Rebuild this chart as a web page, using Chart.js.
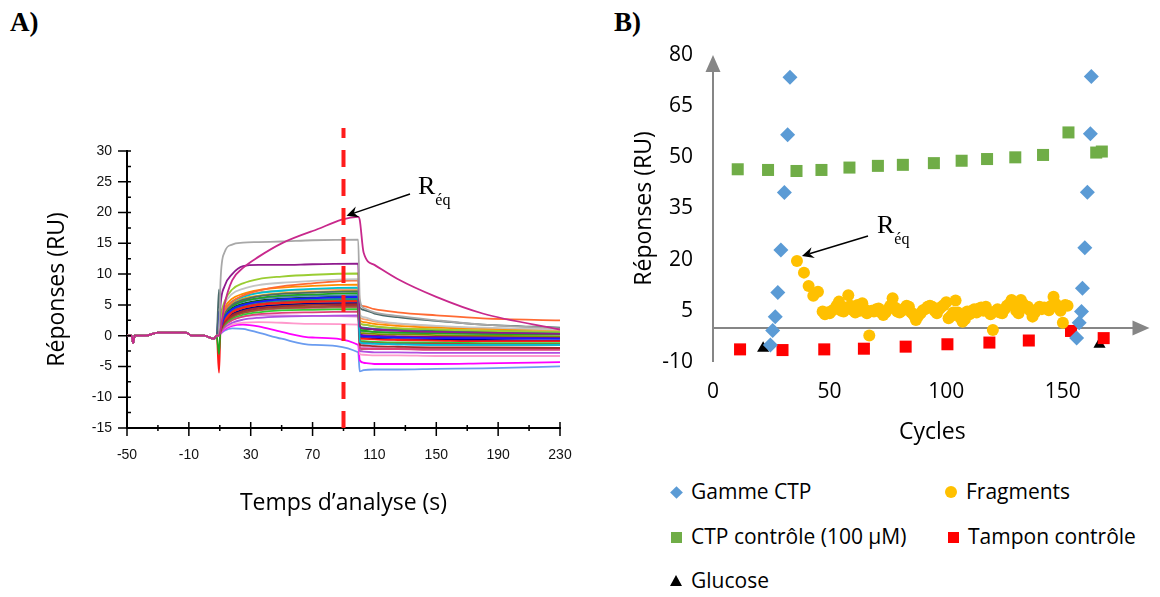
<!DOCTYPE html>
<html>
<head>
<meta charset="utf-8">
<script src="https://cdn.jsdelivr.net/npm/chart.js@4"></script>
<style>
  body { margin: 0; background: #fff; width: 1160px; height: 597px; overflow: hidden; position: relative; font-family: 'Open Sans', sans-serif; }
  #chartA { position: absolute; left: 0; top: 0; }
  #chartB { position: absolute; left: 600px; top: 0; }
  .tag { position: absolute; font: bold 27px 'Liberation Serif', serif; color: #000; line-height: 30px; }
  .item { position: absolute; font-size: 21px; color: #000; line-height: 26px; white-space: nowrap; }
  .mk { position: absolute; }
</style>
</head>
<body>
<div class="tag" style="left:10px;top:7px">A)</div>
<div class="tag" style="left:614px;top:7px">B)</div>
<canvas id="chartA" width="600" height="597"></canvas>
<canvas id="chartB" width="560" height="460"></canvas>
<div id="legendB"></div>

<script>
// ---------- Panel A : sensorgrams ----------
// shared baseline before injection
const baseT = [-50, -47, -46, -45, -38, -30, -12, -8, 0, 6, 8];
const baseV = [0, 0, -1.2, 0, 0, 0.5, 0.5, 0, 0, -0.5, 0];
// association phase (injection ~10 s to ~100 s)
const assocT = [9.5, 10.5, 13, 18, 25, 35, 50, 70, 99.5];
// dissociation phase
const dissT = [100.5, 103, 110, 125, 150, 180, 230];

const assocValues = [
  [0, 1, 5, 9, 11, 12.8, 15, 17, 19.3],
  [0, 9, 13.5, 14.8, 15.1, 15.2, 15.3, 15.5, 15.6],
  [0, 5, 8, 10, 11.3, 11.5, 11.5, 11.6, 11.7],
  [0, 3, 5.5, 7.5, 8.5, 9.2, 9.6, 9.9, 10.1],
  [0, 2.5, 5, 6.8, 7.6, 8.2, 8.6, 8.9, 9.2],
  [0, 2, 4, 5.5, 6.5, 7.3, 8, 8.5, 9.0],
  [7.5, 2, 3.5, 5, 5.8, 6.4, 6.8, 7, 7.2],
  [0, 2, 4, 5.5, 6.3, 6.9, 7.3, 7.6, 7.8],
  [0, 2.5, 4.5, 6, 6.8, 7.4, 7.8, 8.1, 8.3],
  [-3, 1.5, 3.5, 4.8, 5.6, 6.1, 6.5, 6.7, 6.9],
  [4, 1.5, 3, 4.3, 5, 5.5, 5.9, 6.1, 6.3],
  [-6, 1, 2.5, 3.8, 4.5, 5, 5.3, 5.5, 5.6],
  [0, 1, 2.2, 3.3, 4, 4.5, 4.8, 5, 5.1],
  [0, 1.5, 3, 4.2, 4.9, 5.4, 5.7, 5.9, 6],
  [0, 1.2, 2.6, 3.8, 4.5, 5, 5.3, 5.5, 5.7],
  [0, 1, 2.4, 3.5, 4.2, 4.7, 5, 5.2, 5.3],
  [0, 0.8, 2, 3, 3.7, 4.2, 4.5, 4.7, 4.8],
  [0, 0.8, 1.8, 2.8, 3.4, 3.8, 4.1, 4.2, 4.3],
  [0, 0.6, 1.6, 2.5, 3.1, 3.5, 3.7, 3.8, 3.9],
  [0, 0.5, 1.3, 2.1, 2.6, 2.9, 3.1, 3.2, 3.3],
  [0, 0.5, 1.2, 1.8, 2.1, 2.2, 2.1, 1.9, 1.8],
  [0, 0.4, 1, 1.6, 1.8, 1.5, 0.6, -0.3, -1.5],
  [0, 0.3, 0.8, 1.2, 1.1, 0.5, -0.5, -1.5, -2.7],
  [0, 1.8, 3.6, 4.8, 5.5, 6, 6.3, 6.5, 6.6],
  [0, 1.6, 3.2, 4.5, 5.2, 5.7, 6, 6.2, 6.4],
  [0, 1, 2.2, 3.2, 3.8, 4.3, 4.6, 4.7, 4.9],
  [0, 2.2, 4.2, 5.6, 6.4, 7, 7.3, 7.5, 7.6],
  [0, 2, 3.9, 5.2, 6, 6.5, 6.9, 7.1, 7.3],
  [0, 1.3, 2.8, 4, 4.7, 5.2, 5.5, 5.7, 5.9],
  [0, 1.1, 2.5, 3.6, 4.3, 4.8, 5.1, 5.3, 5.4],
  [0, 0.9, 2.1, 3.1, 3.7, 4.1, 4.4, 4.5, 4.6],
  [0, 0.7, 1.7, 2.6, 3.1, 3.3, 3.3, 3.2, 3.1]
];
const dissValues = [
  [18.8, 13.5, 11.5, 9.2, 6.3, 3.6, 1.0],
  [6, 4.5, 3.8, 3.2, 2.5, 1.8, 1.2],
  [1.5, 1.2, 1.0, 0.8, 0.6, 0.5, 0.3],
  [2, 1.8, 1.5, 1.2, 1.0, 0.8, 0.6],
  [3.5, 3, 2.5, 2, 1.6, 1.3, 1],
  [5.2, 4.8, 4.3, 3.8, 3.3, 2.8, 2.5],
  [4.6, 4.2, 3.6, 3, 2.4, 1.8, 1.3],
  [-1, -1.2, -1.3, -1.4, -1.5, -1.5, -1.5],
  [2.5, 2.2, 1.9, 1.6, 1.3, 1.1, 1.0],
  [1, 0.8, 0.6, 0.5, 0.4, 0.3, 0.2],
  [0, -0.1, -0.2, -0.3, -0.4, -0.4, -0.5],
  [-0.5, -0.5, -0.6, -0.7, -0.8, -0.9, -0.9],
  [-1.5, -1.6, -1.7, -1.8, -1.9, -1.9, -2],
  [1.5, 1.3, 1.1, 0.9, 0.7, 0.5, 0.4],
  [0.5, 0.4, 0.3, 0.2, 0.1, 0, -0.1],
  [-0.3, -0.4, -0.5, -0.6, -0.7, -0.7, -0.8],
  [-1, -1.1, -1.2, -1.3, -1.3, -1.4, -1.4],
  [-0.8, -0.9, -1, -1.1, -1.1, -1.2, -1.2],
  [-2, -2.1, -2.2, -2.2, -2.3, -2.3, -2.3],
  [-2.5, -2.6, -2.7, -2.7, -2.8, -2.8, -2.8],
  [-3, -3.1, -3.2, -3.2, -3.3, -3.3, -3.3],
  [-4, -4.4, -4.6, -4.6, -4.6, -4.5, -4.3],
  [-5.8, -5.6, -5.5, -5.5, -5.4, -5.3, -5],
  [0.8, 0.7, 0.6, 0.5, 0.4, 0.3, 0.2],
  [1.2, 1.1, 1.0, 0.9, 0.8, 0.7, 0.6],
  [0.2, 0.1, 0, -0.1, -0.2, -0.2, -0.3],
  [3, 2.7, 2.3, 1.9, 1.5, 1.2, 0.9],
  [2, 1.8, 1.5, 1.2, 1, 0.8, 0.7],
  [0, -0.1, -0.2, -0.3, -0.3, -0.4, -0.4],
  [-1.2, -1.3, -1.3, -1.4, -1.5, -1.5, -1.5],
  [-2.3, -2.2, -2.1, -2.1, -2.1, -2, -2],
  [-1.8, -1.9, -2, -2.1, -2.1, -2.1, -2.2]
];
const curveColors = [
  '#c8288c', '#a8a8a8', '#8e1b8e', '#9acd32', '#c4c4c4', '#ff6a33', '#4a6a6a', '#00c0d0',
  '#ff8c00', '#1fa51f', '#1a1aff', '#ff1a1a', '#a52a2a', '#208b8b', '#7f8f00', '#000090',
  '#a0522d', '#32cd32', '#e0407a', '#b050e0', '#ff99cc', '#ff00ff', '#6a9cf0', '#4682b4',
  '#0a640a', '#8b008b', '#f4a070', '#daa520', '#dc143c', '#1e90ff', '#bc5f6a', '#dd88dd'
];
const reqTime = 90; // time where R_eq is read

// ---------- Panel B : responses per cycle ----------
const gammeX = [24.6, 25.6, 26.7, 27.8, 29.1, 30.6, 32.0, 33.0, 155.9, 157.0, 158.0, 158.4, 159.4, 160.5, 161.8, 162.2];
const gammeY = [-5.0, -0.8, 3.3, 10.4, 22.8, 39.7, 56.6, 73.5, -3.0, 1.5, 4.8, 11.6, 23.5, 39.8, 56.9, 73.7];

const fragX = [36, 39, 41, 43, 45, 47, 48, 49, 50, 51, 52, 53, 54, 55, 56, 57, 58, 59, 60, 61, 62, 63, 64, 65, 66, 67, 68, 69,
  70, 71, 72, 73, 74, 75, 76, 77, 78, 79, 80, 81, 82, 83, 84, 85, 86, 87, 88, 89, 90, 91, 92, 93, 94, 95, 96, 97, 98, 99,
  100, 101, 102, 103, 104, 105, 106, 107, 108, 109, 110, 111, 112, 113, 114, 115, 116, 117, 118, 119, 120, 121, 122, 123,
  124, 125, 126, 127, 128, 129, 130, 131, 132, 133, 134, 135, 136, 137, 138, 139, 140, 141, 142, 143, 144, 145, 146, 147,
  148, 149, 150, 151, 152];
const fragY = [19.6, 16.2, 12.3, 9.4, 10.6, 4.8, 4.0, 4.5, 4.3, 5.0, 5.5, 6.5, 7.7, 5.0, 4.8, 6.0, 9.6, 6.5, 5.2, 4.5, 6.7, 5.0, 7.2, 5.5, 4.3, -2.2, 5.0, 4.8,
  5.5, 5.7, 4.5, 3.8, 4.5, 5.5, 6.5, 8.7, 6.0, 4.8, 4.5, 5.0, 5.7, 6.5, 6.2, 4.5, 3.8, 2.3, 3.5, 4.3, 5.2, 5.5, 6.2, 6.5, 6.2, 5.0, 4.3, 5.5, 6.2, 6.7,
  7.5, 2.8, 3.5, 4.5, 8.0, 4.5, 3.0, 1.8, 2.5, 4.8, 4.0, 5.0, 5.5, 4.5, 5.7, 6.0, 5.0, 6.2, 4.8, 4.0, -0.6, 4.8, 5.5, 4.5,
  4.3, 5.5, 6.5, 7.0, 8.2, 6.5, 5.0, 4.3, 8.2, 7.0, 6.0, 6.2, 5.0, 3.3, 4.5, 5.5, 6.2, 5.5, 6.0, 5.8, 5.2, 6.5, 9.1, 7.0,
  6.0, 5.0, 1.5, 6.7, 6.5];

const ctpX = [10.6, 23.6, 35.8, 46.5, 58.5, 70.7, 81.4, 94.7, 106.6, 117.5, 129.6, 141.5, 152.4, 164.3, 166.7];
const ctpY = [46.5, 46.3, 46.0, 46.3, 47.0, 47.5, 47.8, 48.3, 49.0, 49.5, 50.0, 50.7, 57.3, 51.4, 51.7];

const tamponX = [11.6, 29.8, 47.7, 64.7, 82.6, 100.5, 118.5, 135.4, 153.5, 167.5];
const tamponY = [-6.3, -6.5, -6.3, -6.1, -5.5, -4.8, -4.3, -3.7, -0.9, -3.0];

const glucoseX = [21.5, 165.7];
const glucoseY = [-6.0, -4.8];

const seriesNames = ['Gamme CTP', 'Fragments', 'CTP contrôle (100 µM)', 'Tampon contrôle', 'Glucose'];

// ---------- helpers ----------
const zip = (xs, ys) => xs.map((x, i) => ({ x: x, y: ys[i] }));

function arrow(ctx, x1, y1, x2, y2, color, head) {
  const ang = Math.atan2(y2 - y1, x2 - x1);
  ctx.strokeStyle = color; ctx.fillStyle = color;
  ctx.beginPath(); ctx.moveTo(x1, y1);
  ctx.lineTo(x2 - Math.cos(ang) * head * 0.6, y2 - Math.sin(ang) * head * 0.6); ctx.stroke();
  ctx.beginPath();
  ctx.moveTo(x2, y2);
  ctx.lineTo(x2 - head * Math.cos(ang - 0.45), y2 - head * Math.sin(ang - 0.45));
  ctx.lineTo(x2 - head * 0.6 * Math.cos(ang), y2 - head * 0.6 * Math.sin(ang));
  ctx.lineTo(x2 - head * Math.cos(ang + 0.45), y2 - head * Math.sin(ang + 0.45));
  ctx.closePath(); ctx.fill();
}

function reqLabel(ctx, x, y) {
  ctx.fillStyle = '#000';
  ctx.textBaseline = 'alphabetic'; ctx.textAlign = 'left';
  ctx.font = '26px "Liberation Serif", serif';
  ctx.fillText('R', x, y);
  const w = ctx.measureText('R').width;
  ctx.font = '16px "Liberation Serif", serif';
  ctx.fillText('éq', x + w, y + 11);
}

// ---------- chart A ----------
const timeAll = baseT.concat(assocT, dissT);

const ticksA = {
  id: 'ticksA',
  afterDraw(chart) {
    const { ctx, chartArea: a, scales: { x, y } } = chart;
    ctx.save();
    ctx.strokeStyle = '#000';
    ctx.lineWidth = 1.5;
    ctx.beginPath();
    y.ticks.forEach((t, i) => {
      const py = y.getPixelForValue(t.value);
      ctx.moveTo(a.left - 9, py); ctx.lineTo(a.left + 4, py);
      if (i < y.ticks.length - 1) {
        const pm = y.getPixelForValue((t.value + y.ticks[i + 1].value) / 2);
        ctx.moveTo(a.left, pm); ctx.lineTo(a.left + 4, pm);
      }
    });
    x.ticks.forEach((t, i) => {
      const px = x.getPixelForValue(t.value);
      ctx.moveTo(px, a.bottom - 6); ctx.lineTo(px, a.bottom + 8);
      if (i < x.ticks.length - 1) {
        const pm = x.getPixelForValue((t.value + x.ticks[i + 1].value) / 2);
        ctx.moveTo(pm, a.bottom - 3); ctx.lineTo(pm, a.bottom + 3);
      }
    });
    ctx.stroke();

    // red dashed line at R_eq time
    const px = x.getPixelForValue(reqTime);
    ctx.strokeStyle = '#ff1c1c';
    ctx.lineWidth = 4;
    ctx.setLineDash([17, 12]);
    ctx.beginPath();
    ctx.moveTo(px, a.bottom);
    ctx.lineTo(px, a.top - 23);
    ctx.stroke();
    ctx.setLineDash([]);

    // R_eq annotation
    ctx.lineWidth = 1.5;
    arrow(ctx, 410, 194, px + 3, y.getPixelForValue(19.5), '#000', 13);
    reqLabel(ctx, 418, 194);
    ctx.restore();
  }
};

new Chart(document.getElementById('chartA'), {
  type: 'line',
  data: {
    datasets: curveColors.map((c, i) => {
      const vals = baseV.concat(assocValues[i], dissValues[i]);
      return {
        data: zip(timeAll, vals),
        borderColor: c,
        borderWidth: 1.8,
        pointRadius: 0,
        cubicInterpolationMode: 'monotone',
        fill: false
      };
    })
  },
  options: {
    responsive: false,
    animation: false,
    devicePixelRatio: 1,
    layout: { padding: { left: 0, right: 40, top: 151, bottom: 0 } },
    plugins: { legend: { display: false }, tooltip: { enabled: false } },
    scales: {
      x: {
        type: 'linear', min: -50, max: 230,
        ticks: { stepSize: 40, padding: 19, color: '#111', font: { family: 'Liberation Sans', size: 14 } },
        grid: { display: false, drawTicks: false },
        border: { display: true, color: '#000', width: 2 },
        title: { display: true, text: 'Temps d’analyse (s)', color: '#000', font: { family: 'Open Sans', size: 23 }, padding: { top: 0, bottom: 80 } },
        afterFit: s => { s.height = 597 - 428; }
      },
      y: {
        min: -15, max: 30,
        ticks: { stepSize: 5, padding: 15, color: '#111', font: { family: 'Liberation Sans', size: 14 } },
        grid: { display: false, drawTicks: false },
        border: { display: true, color: '#000', width: 2 },
        title: { display: true, text: 'Réponses (RU)', color: '#000', font: { family: 'Open Sans', size: 23 }, padding: { top: 44, bottom: 0 } },
        afterFit: s => { s.width = 127; }
      }
    }
  },
  plugins: [ticksA]
});

// ---------- chart B ----------
const axesB = {
  id: 'axesB',
  beforeDatasetsDraw(chart) {
    const { ctx, chartArea: a, scales: { x, y } } = chart;
    const x0 = x.getPixelForValue(0), y0 = y.getPixelForValue(0);
    ctx.save();
    ctx.strokeStyle = '#868686'; ctx.fillStyle = '#868686'; ctx.lineWidth = 2;
    ctx.beginPath();
    ctx.moveTo(x0, y.getPixelForValue(-10)); ctx.lineTo(x0, a.top + 12);
    ctx.moveTo(x0, y0); ctx.lineTo(a.right - 14, y0);
    ctx.stroke();
    ctx.beginPath();
    ctx.moveTo(x0, a.top); ctx.lineTo(x0 - 7.5, a.top + 17); ctx.lineTo(x0 + 7.5, a.top + 17); ctx.closePath();
    ctx.moveTo(a.right - 2, y0); ctx.lineTo(a.right - 19, y0 - 7.5); ctx.lineTo(a.right - 19, y0 + 7.5); ctx.closePath();
    ctx.fill();
    ctx.restore();
  },
  afterDatasetsDraw(chart) {
    const { ctx, scales: { x, y } } = chart;
    ctx.save();
    ctx.lineWidth = 1.5;
    arrow(ctx, 268, 236, x.getPixelForValue(fragX[0]) + 5, y.getPixelForValue(fragY[0]) - 5, '#000', 13);
    reqLabel(ctx, 277, 233);
    ctx.restore();
  }
};

const fontB = { family: 'Open Sans', size: 21 };
new Chart(document.getElementById('chartB'), {
  type: 'scatter',
  data: {
    datasets: [
      { label: seriesNames[0], data: zip(gammeX, gammeY), pointStyle: 'rectRot', pointRadius: 7.5, backgroundColor: '#5b9bd5', borderWidth: 0 },
      { label: seriesNames[1], data: zip(fragX, fragY), pointStyle: 'circle', pointRadius: 6, backgroundColor: '#ffc000', borderWidth: 0 },
      { label: seriesNames[2], data: zip(ctpX, ctpY), pointStyle: 'rect', pointRadius: 8.5, backgroundColor: '#70ad47', borderWidth: 0 },
      { label: seriesNames[3], data: zip(tamponX, tamponY), pointStyle: 'rect', pointRadius: 8.5, backgroundColor: '#ff0000', borderWidth: 0 },
      { label: seriesNames[4], data: zip(glucoseX, glucoseY), pointStyle: 'triangle', pointRadius: 7, backgroundColor: '#000000', borderWidth: 0 }
    ].map(d => Object.assign(d, { clip: false, pointHoverRadius: d.pointRadius }))
  },
  options: {
    responsive: false,
    animation: false,
    devicePixelRatio: 1,
    layout: { padding: { left: 0, right: 0, top: 55, bottom: 0 } },
    plugins: { legend: { display: false }, tooltip: { enabled: false } },
    scales: {
      x: {
        type: 'linear', min: 0, max: 188,
        ticks: { stepSize: 50, includeBounds: false, padding: 17, color: '#000', font: fontB },
        grid: { display: false, drawTicks: false },
        border: { display: false },
        title: { display: true, text: 'Cycles', color: '#000', font: { family: 'Open Sans', size: 23 }, padding: { top: 0, bottom: 14 } },
        afterFit: s => { s.height = 460 - 362; }
      },
      y: {
        min: -10, max: 80,
        ticks: { stepSize: 15, padding: 20, color: '#000', font: fontB },
        grid: { display: false, drawTicks: false },
        border: { display: false },
        title: { display: true, text: 'Réponses (RU)', color: '#000', font: { family: 'Open Sans', size: 23 }, padding: { top: 31, bottom: 0 } },
        afterFit: s => { s.width = 113; }
      }
    }
  },
  plugins: [axesB]
});

// ---------- legend B (html) ----------
const legendPos = [[676, 492], [951, 492], [676, 537], [953, 537], [676, 581]];
const markerCss = [
  'width:9px;height:9px;background:#5b9bd5;transform:rotate(45deg);margin:-4.5px 0 0 -4.5px',
  'width:12px;height:12px;background:#ffc000;border-radius:50%;margin:-6px 0 0 -6px',
  'width:11px;height:11px;background:#70ad47;margin:-5.5px 0 0 -5.5px',
  'width:11px;height:11px;background:#ff0000;margin:-5.5px 0 0 -5.5px',
  'width:0;height:0;border-left:6px solid transparent;border-right:6px solid transparent;border-bottom:11px solid #000;margin:-6px 0 0 -6px'
];
const legendB = document.getElementById('legendB');
seriesNames.forEach((name, i) => {
  const [cx, cy] = legendPos[i];
  const m = document.createElement('div');
  m.className = 'mk';
  m.style.cssText = 'left:' + cx + 'px;top:' + cy + 'px;' + markerCss[i];
  legendB.appendChild(m);
  const t = document.createElement('div');
  t.className = 'item';
  t.style.left = (cx + 15) + 'px';
  t.style.top = (cy - 14) + 'px';
  t.textContent = name;
  legendB.appendChild(t);
});
</script>
</body>
</html>
